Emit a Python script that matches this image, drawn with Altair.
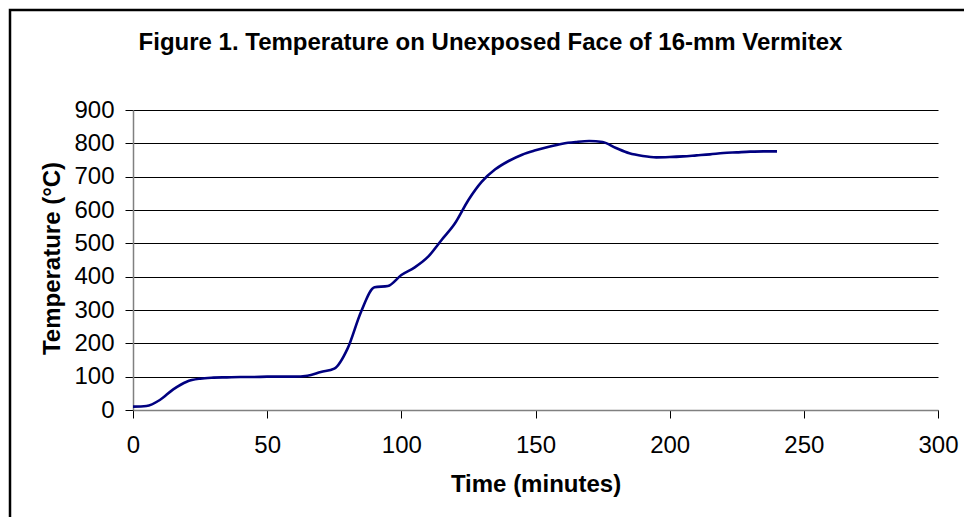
import altair as alt
import pandas as pd

time_min = [0, 5, 10, 15, 20, 25, 30, 35, 40, 45, 50, 55, 60, 65, 70, 75, 80, 85, 90, 95,
            100, 105, 110, 115, 120, 125, 130, 135, 140, 145, 150, 155, 160, 165, 170, 175,
            180, 185, 190, 195, 200, 205, 210, 215, 220, 225, 230, 235, 240]
temp_c = [10, 12, 30, 62, 85, 94, 97, 98, 99, 99, 100, 100, 100, 103, 114, 124, 185, 295, 368, 372,
          405, 428, 460, 510, 560, 630, 685, 722, 747, 766, 779, 790, 799, 804, 807, 804,
          786, 770, 762, 758, 759, 761, 764, 767, 771, 773, 775, 776, 776]

x_ticks = [0, 50, 100, 150, 200, 250, 300]
y_ticks = [0, 100, 200, 300, 400, 500, 600, 700, 800, 900]

df = pd.DataFrame({"t": time_min, "T": temp_c})

FONT = "Liberation Sans"

line = alt.Chart(df).mark_line(color="#000080", strokeWidth=2.6, interpolate="monotone").encode(
    x=alt.X("t:Q", title="Time (minutes)",
            scale=alt.Scale(domain=[0, 300], nice=False),
            axis=alt.Axis(values=x_ticks, grid=False, tickSize=8, labelPadding=15,
                          labelFontSize=24, titleFontSize=24, labelFlush=False,
                          titleBaseline="alphabetic", titleY=81)),
    y=alt.Y("T:Q", title="Temperature (°C)",
            scale=alt.Scale(domain=[0, 900], nice=False),
            axis=alt.Axis(values=y_ticks, grid=True, tickSize=8, labelPadding=11,
                          labelFontSize=24, titleFontSize=24, labelFlush=False,
                          titleBaseline="alphabetic", titleX=-74, titleY=148)),
)

border = alt.Chart(pd.DataFrame({"k": [0]})).mark_rect(
    fill=None, stroke="black", strokeWidth=2.5
).encode(
    x=alt.value(-123), x2=alt.value(900), y=alt.value(-100), y2=alt.value(450)
)

chart = alt.layer(border, line).properties(
    width=805, height=300,
    background="white",
    padding={"left": 125, "top": 102, "right": 26, "bottom": 107},
    autosize=alt.AutoSizeParams(type="none"),
    title=alt.TitleParams(
        "Figure 1. Temperature on Unexposed Face of 16-mm Vermitex",
        font=FONT, fontSize=24, fontWeight="bold", color="black",
        anchor="middle", baseline="alphabetic", offset=-65, dx=-45,
    ),
).configure_view(stroke=None).configure_axis(
    labelFont=FONT, labelColor="black",
    titleFont=FONT, titleFontWeight="bold", titleColor="black",
    domainColor="#808080", domainWidth=1.5,
    tickColor="black", tickWidth=1,
    gridColor="black", gridWidth=1, gridOpacity=1,
)

chart.save("out.html", embed_options={"renderer": "svg", "actions": False})
